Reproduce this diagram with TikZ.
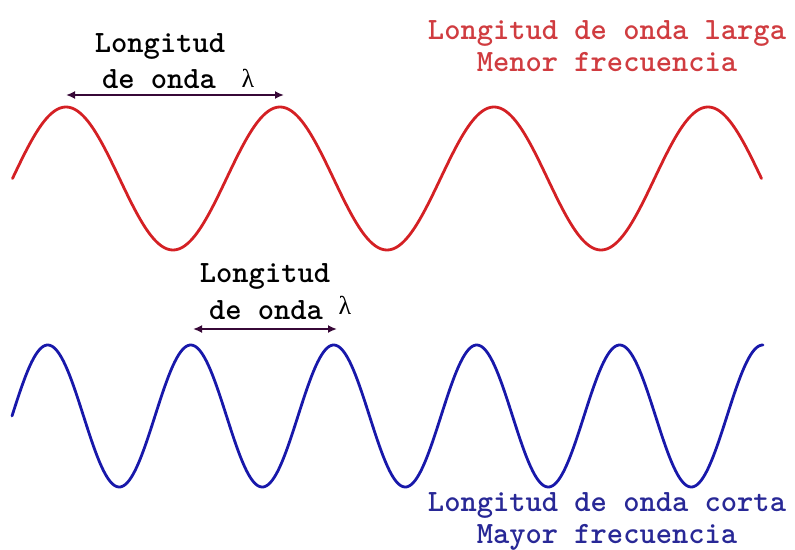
\documentclass[tikz,border=0pt]{standalone}
\usepackage{fontspec}
\newfontfamily\lamfont{Liberation Serif}
\usetikzlibrary{arrows.meta}
\definecolor{wred}{RGB}{212,32,36}
\definecolor{tred}{RGB}{208,60,64}
\definecolor{wblue}{RGB}{24,24,170}
\definecolor{tblue}{RGB}{40,40,150}
\definecolor{arrowc}{RGB}{55,8,55}
\tikzset{
  wave/.style={line width=2.8pt, line cap=round, line join=round},
  lbl/.style={inner sep=0pt, font=\ttfamily\bfseries\fontsize{31}{32}\selectfont},
  lam/.style={inner sep=0pt, font=\lamfont\fontsize{26}{28}\selectfont},
  span/.style={draw=arrowc, line width=2pt, {Latex[length=9pt,width=8pt]}-{Latex[length=9pt,width=8pt]}},
}
\begin{document}
\begin{tikzpicture}[x=1pt,y=-1pt]
\useasboundingbox (0,0) rectangle (795,549);
% waves
\draw[wave, wred] plot[domain=12.5:761.5, samples=400, smooth] (\x, {178.5 - 71.5*sin((\x-12.5)/214*360)});
\draw[wave, wblue] plot[domain=12:763, samples=500, smooth] (\x, {416 - 71*sin((\x-12)/143*360)});
% top label
\node[lbl] (l1a) at (160,46) {Longitud};
\node[lbl] (l1b) at (159,79) {de onda};
\node[lam] (lam1) at (248,78) {λ};
\coordinate (a1) at (66,95);
\coordinate (a2) at (284,95);
\draw[span] (a1) -- (a2);
% middle label
\node[lbl] (l2a) at (265,276) {Longitud};
\node[lbl] (l2b) at (266,310) {de onda};
\node[lam] (lam2) at (345,305) {λ};
\coordinate (b1) at (193,329);
\coordinate (b2) at (337,329);
\draw[span] (b1) -- (b2);
% captions
\node[lbl, text=tred, align=center] (cap1) at (607,46) {Longitud de onda larga\\Menor frecuencia};
\node[lbl, text=tblue, align=center] (cap2) at (607,521) {Longitud de onda corta\\Mayor frecuencia};
\end{tikzpicture}
\end{document}
